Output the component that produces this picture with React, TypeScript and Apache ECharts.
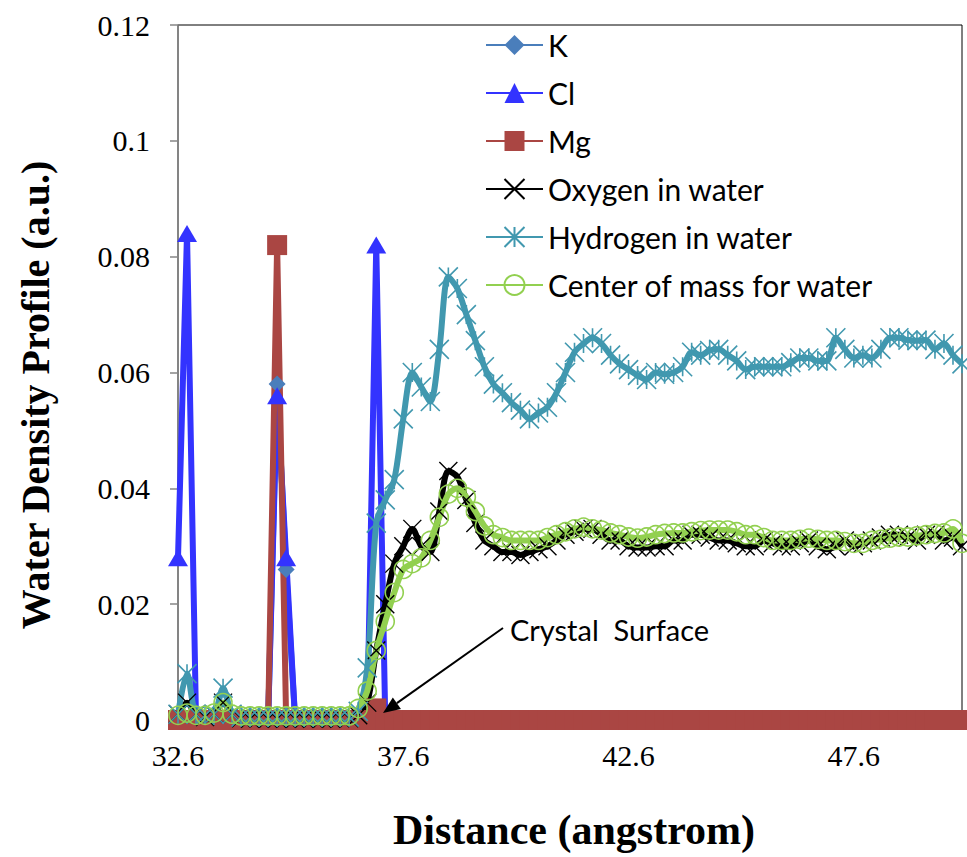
import React, { useEffect, useRef } from "react";
import * as echarts from "echarts";

const distance = [
  "32.6", "32.8", "33.0", "33.2", "33.4", "33.6", "33.8", "34.0", "34.2", "34.4",
  "34.6", "34.8", "35.0", "35.2", "35.4", "35.6", "35.8", "36.0", "36.2", "36.4",
  "36.6", "36.8", "37.0", "37.2", "37.4", "37.6", "37.8", "38.0", "38.2", "38.4",
  "38.6", "38.8", "39.0", "39.2", "39.4", "39.6", "39.8", "40.0", "40.2", "40.4",
  "40.6", "40.8", "41.0", "41.2", "41.4", "41.6", "41.8", "42.0", "42.2", "42.4",
  "42.6", "42.8", "43.0", "43.2", "43.4", "43.6", "43.8", "44.0", "44.2", "44.4",
  "44.6", "44.8", "45.0", "45.2", "45.4", "45.6", "45.8", "46.0", "46.2", "46.4",
  "46.6", "46.8", "47.0", "47.2", "47.4", "47.6", "47.8", "48.0", "48.2", "48.4",
  "48.6", "48.8", "49.0", "49.2", "49.4", "49.6", "49.8", "50.0",
];

const kValues = [
  0, 0, 0, 0, 0, 0, 0, 0, 0, 0,
  0, 0.058, 0.026, 0, 0, 0, 0, 0, 0, 0,
  0, 0, 0, 0, 0, 0, 0, 0, 0, 0,
  0, 0, 0, 0, 0, 0, 0, 0, 0, 0,
  0, 0, 0, 0, 0, 0, 0, 0, 0, 0,
  0, 0, 0, 0, 0, 0, 0, 0, 0, 0,
  0, 0, 0, 0, 0, 0, 0, 0, 0, 0,
  0, 0, 0, 0, 0, 0, 0, 0, 0, 0,
  0, 0, 0, 0, 0, 0, 0, 0,
];

const clValues = [
  0.028, 0.084, 0, 0, 0, 0, 0, 0, 0, 0,
  0, 0.056, 0.028, 0, 0, 0, 0, 0, 0, 0,
  0, 0, 0.082, 0, 0, 0, 0, 0, 0, 0,
  0, 0, 0, 0, 0, 0, 0, 0, 0, 0,
  0, 0, 0, 0, 0, 0, 0, 0, 0, 0,
  0, 0, 0, 0, 0, 0, 0, 0, 0, 0,
  0, 0, 0, 0, 0, 0, 0, 0, 0, 0,
  0, 0, 0, 0, 0, 0, 0, 0, 0, 0,
  0, 0, 0, 0, 0, 0, 0, 0,
];

const mgValues = [
  0, 0, 0, 0, 0, 0, 0, 0, 0, 0,
  0, 0.082, 0, 0, 0, 0, 0, 0, 0, 0,
  0, 0, 0.002, 0, 0, 0, 0, 0, 0, 0,
  0, 0, 0, 0, 0, 0, 0, 0, 0, 0,
  0, 0, 0, 0, 0, 0, 0, 0, 0, 0,
  0, 0, 0, 0, 0, 0, 0, 0, 0, 0,
  0, 0, 0, 0, 0, 0, 0, 0, 0, 0,
  0, 0, 0, 0, 0, 0, 0, 0, 0, 0,
  0, 0, 0, 0, 0, 0, 0, 0,
];

const oxygenValues = [
  0.001, 0.003, 0.001, 0.0005, 0.001, 0.003, 0.001, 0.0003, 0.0002, 0.0003,
  0.0002, 0.0002, 0.0003, 0.0002, 0.0002, 0.0003, 0.0002, 0.0002, 0.0003, 0.0003,
  0.0008, 0.003, 0.012, 0.02, 0.027, 0.03, 0.033, 0.03, 0.029, 0.036,
  0.043, 0.042, 0.038, 0.034, 0.031, 0.03, 0.029, 0.029, 0.0285, 0.029,
  0.0295, 0.03, 0.031, 0.032, 0.0325, 0.033, 0.033, 0.032, 0.031, 0.031,
  0.03, 0.0298, 0.0298, 0.03, 0.03, 0.031, 0.031, 0.032, 0.032, 0.0315,
  0.031, 0.031, 0.0305, 0.03, 0.03, 0.031, 0.0305, 0.03, 0.03, 0.0305,
  0.031, 0.03, 0.0295, 0.03, 0.031, 0.03, 0.0305, 0.031, 0.0315, 0.032,
  0.032, 0.0315, 0.031, 0.032, 0.032, 0.031, 0.0315, 0.03,
];

const hydrogenValues = [
  0.001, 0.008, 0.001, 0.0008, 0.001, 0.0055, 0.001, 0.0005, 0.0005, 0.0005,
  0.0005, 0.0005, 0.0005, 0.0005, 0.0005, 0.0005, 0.0005, 0.0005, 0.0005, 0.0005,
  0.0015, 0.009, 0.034, 0.038, 0.0415, 0.052, 0.06, 0.0575, 0.055, 0.064,
  0.0765, 0.0745, 0.07, 0.0655, 0.061, 0.058, 0.0565, 0.0548, 0.0535, 0.052,
  0.053, 0.054, 0.0565, 0.06, 0.0635, 0.065, 0.066, 0.065, 0.063, 0.0615,
  0.0605, 0.0595, 0.0588, 0.06, 0.0597, 0.06, 0.061, 0.0635, 0.063, 0.0638,
  0.064, 0.063, 0.062, 0.0605, 0.061, 0.061, 0.061, 0.061, 0.0617, 0.0625,
  0.0625, 0.062, 0.062, 0.066, 0.064, 0.0625, 0.063, 0.0625, 0.064, 0.066,
  0.066, 0.0656, 0.0655, 0.0656, 0.064, 0.065, 0.063, 0.0615,
];

const comValues = [
  0.0008, 0.0012, 0.0008, 0.0008, 0.0012, 0.003, 0.001, 0.0007, 0.0007, 0.0007,
  0.0007, 0.0007, 0.0007, 0.0007, 0.0007, 0.0007, 0.0007, 0.0007, 0.0007, 0.0007,
  0.002, 0.005, 0.012, 0.017, 0.022, 0.026, 0.027, 0.028, 0.031, 0.035,
  0.039, 0.04, 0.0385, 0.036, 0.0335, 0.032, 0.0315, 0.031, 0.031, 0.031,
  0.031, 0.0315, 0.032, 0.0325, 0.033, 0.0333, 0.033, 0.0328, 0.0323, 0.032,
  0.0316, 0.0314, 0.0316, 0.032, 0.0322, 0.0323, 0.0323, 0.0325, 0.0327, 0.0328,
  0.0328, 0.0328, 0.0325, 0.032, 0.032, 0.0315, 0.031, 0.031, 0.031, 0.0312,
  0.0314, 0.0312, 0.031, 0.031, 0.0308, 0.0305, 0.0305, 0.031, 0.0312, 0.0314,
  0.0316, 0.0316, 0.0318, 0.032, 0.0322, 0.0323, 0.033, 0.0305,
];

const seriesNames = [
  "K",
  "Cl",
  "Mg",
  "Oxygen in water",
  "Hydrogen in water",
  "Center of mass for water",
];

const yTicks = { min: 0, max: 0.12, interval: 0.02 };

const SANS = "Lato, 'Open Sans', sans-serif";
const SERIF = "'Liberation Serif', 'Times New Roman', serif";

export default function App() {
  const ref = useRef<HTMLDivElement>(null);

  useEffect(() => {
    if (!ref.current) return;
    const chart = echarts.init(ref.current, null, { renderer: "svg" });

    const base = {
      type: "line",
      showSymbol: true,
      showAllSymbol: true,
      emphasis: { disabled: true },
      z: 2,
    };

    // annotation arrow geometry (pixels)
    const tip = [383, 713];
    const start = [503, 628];
    const dx = tip[0] - start[0];
    const dy = tip[1] - start[1];
    const len = Math.sqrt(dx * dx + dy * dy);
    const ux = dx / len;
    const uy = dy / len;
    const headL = 17;
    const headW = 7;
    const bx = tip[0] - ux * headL;
    const by = tip[1] - uy * headL;

    chart.setOption({
      animation: false,
      backgroundColor: "#ffffff",
      grid: {
        left: 178,
        right: 5,
        top: 25,
        bottom: 137,
        show: true,
        borderColor: "#000000",
        borderWidth: 1,
        backgroundColor: "transparent",
      },
      legend: {
        data: seriesNames,
        orient: "vertical",
        left: 485,
        top: 30,
        padding: 0,
        itemWidth: 57,
        itemHeight: 25,
        itemGap: 18,
        textStyle: {
          fontFamily: SANS,
          fontSize: 30,
          color: "#000000",
          lineHeight: 28,
        },
        selectedMode: false,
      },
      xAxis: {
        type: "category",
        data: distance,
        boundaryGap: false,
        axisLine: { show: true, lineStyle: { color: "#868686", width: 1 } },
        axisTick: { show: false },
        axisLabel: {
          interval: 24,
          fontFamily: SERIF,
          fontSize: 30,
          color: "#000000",
          margin: 20,
        },
        splitLine: { show: false },
      },
      yAxis: {
        type: "value",
        min: yTicks.min,
        max: yTicks.max,
        interval: yTicks.interval,
        axisLine: { show: true, lineStyle: { color: "#868686", width: 1.5 } },
        axisTick: { show: true, length: 8, lineStyle: { color: "#868686", width: 1.5 } },
        axisLabel: {
          fontFamily: SERIF,
          fontSize: 30,
          color: "#000000",
          margin: 28,
        },
        splitLine: { show: false },
      },
      series: [
        {
          ...base,
          name: seriesNames[0],
          data: kValues,
          symbol: "diamond",
          symbolSize: 17,
          itemStyle: { color: "#4A7EBB" },
          lineStyle: { color: "#4A7EBB", width: 6 },
        },
        {
          ...base,
          name: seriesNames[1],
          data: clValues,
          symbol: "triangle",
          symbolSize: [20, 17],
          itemStyle: { color: "#3333FF" },
          lineStyle: { color: "#3333FF", width: 6 },
        },
        {
          ...base,
          name: seriesNames[2],
          data: mgValues,
          symbol: "rect",
          symbolSize: 20,
          itemStyle: { color: "#AA4643" },
          lineStyle: { color: "#AA4643", width: 6 },
        },
        {
          ...base,
          name: seriesNames[3],
          data: oxygenValues,
          smooth: 0.3,
          symbol: "path://M0,0L10,10M10,0L0,10",
          symbolSize: 18,
          itemStyle: { color: "#000000", borderColor: "#000000", borderWidth: 1.4 },
          lineStyle: { color: "#000000", width: 6 },
        },
        {
          ...base,
          name: seriesNames[4],
          data: hydrogenValues,
          smooth: 0.3,
          symbol: "path://M0,0L10,10M10,0L0,10M5,0L5,10",
          symbolSize: 19,
          itemStyle: { color: "#4198AF", borderColor: "#4198AF", borderWidth: 1.6 },
          lineStyle: { color: "#4198AF", width: 6 },
        },
        {
          ...base,
          name: seriesNames[5],
          data: comValues,
          smooth: 0.3,
          symbol: "circle",
          symbolSize: 18,
          itemStyle: { color: "rgba(0,0,0,0)", borderColor: "#92D050", borderWidth: 1.6 },
          lineStyle: { color: "#92D050", width: 6 },
        },
      ],
      graphic: [
        {
          type: "text",
          x: 35,
          y: 395,
          rotation: Math.PI / 2,
          style: {
            text: "Water Density Profile (a.u.)",
            fontFamily: SERIF,
            fontWeight: "bold",
            fontSize: 40,
            fill: "#000000",
            align: "center",
            verticalAlign: "middle",
          },
          z: 100,
        },
        {
          type: "text",
          x: 574,
          y: 830,
          style: {
            text: "Distance (angstrom)",
            fontFamily: SERIF,
            fontWeight: "bold",
            fontSize: 42,
            fill: "#000000",
            align: "center",
            verticalAlign: "middle",
          },
          z: 100,
        },
        {
          type: "text",
          x: 510,
          y: 629,
          style: {
            text: "Crystal  Surface",
            fontFamily: SANS,
            fontSize: 29,
            fill: "#000000",
            align: "left",
            verticalAlign: "middle",
          },
          z: 100,
        },
        {
          type: "line",
          shape: { x1: start[0], y1: start[1], x2: bx, y2: by },
          style: { stroke: "#000000", lineWidth: 2 },
          z: 100,
        },
        {
          type: "polygon",
          shape: {
            points: [
              [tip[0], tip[1]],
              [bx - uy * headW, by + ux * headW],
              [bx + uy * headW, by - ux * headW],
            ],
          },
          style: { fill: "#000000" },
          z: 100,
        },
      ],
    });

    return () => chart.dispose();
  }, []);

  return (
    <div
      ref={ref}
      style={{
        position: "absolute",
        left: 0,
        top: 0,
        width: 967,
        height: 857,
        background: "#ffffff",
      }}
    />
  );
}
